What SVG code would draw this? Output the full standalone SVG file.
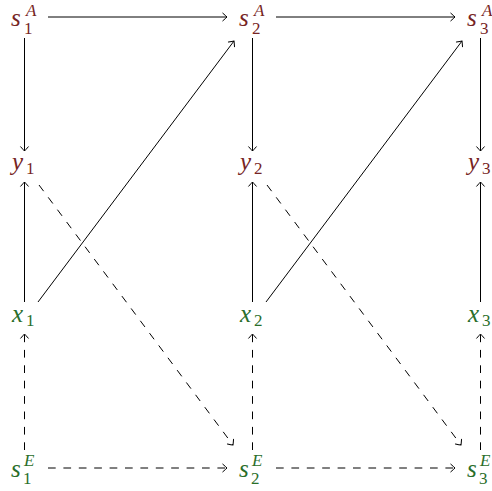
<svg xmlns="http://www.w3.org/2000/svg" width="492" height="491" viewBox="0 0 492 491">
<style>
text{font-family:"Liberation Serif",serif}
.m{font-size:25px;font-style:italic}
.s{font-size:17px;font-style:italic}
.n{font-style:normal}
.r{fill:#762424}
.g{fill:#2a6e2a}
.e{stroke:#000;stroke-width:1;fill:none}
.d{stroke-dasharray:7.7 7.7}
</style>
<defs>
<marker id="ah" markerUnits="userSpaceOnUse" markerWidth="12" markerHeight="12" refX="0" refY="0" viewBox="-6 -6 12 12" orient="auto" overflow="visible">
<path d="M-4.2,-3.8 Q-1.2,-1.2 0,0 Q-1.2,1.2 -4.2,3.8" fill="none" stroke="#000" stroke-width="1" stroke-linecap="round"/>
</marker>
</defs>
<g id="connectors">
<path class="e" marker-end="url(#ah)" d="M48,17 H227"/>
<path class="e" marker-end="url(#ah)" d="M276,17 H455"/>
<path class="e" marker-end="url(#ah)" d="M24.5,38 V151"/>
<path class="e" marker-end="url(#ah)" d="M252.5,38 V151"/>
<path class="e" marker-end="url(#ah)" d="M480.5,38 V151"/>
<path class="e" marker-end="url(#ah)" d="M24.5,302 V182"/>
<path class="e" marker-end="url(#ah)" d="M252.5,302 V182"/>
<path class="e" marker-end="url(#ah)" d="M480.5,302 V182"/>
<path class="e" marker-end="url(#ah)" d="M38,302 L234,41"/>
<path class="e" marker-end="url(#ah)" d="M266,302 L462,41"/>
<path class="e d" marker-end="url(#ah)" d="M39,185 L233,445"/>
<path class="e d" marker-end="url(#ah)" d="M267,185 L461,445"/>
<path class="e d" marker-end="url(#ah)" d="M24.5,450 V334"/>
<path class="e d" marker-end="url(#ah)" d="M252.5,450 V334"/>
<path class="e d" marker-end="url(#ah)" d="M480.5,450 V334"/>
<path class="e d" marker-end="url(#ah)" d="M48,468 H227"/>
<path class="e d" marker-end="url(#ah)" d="M276,468 H455"/>
</g>
<g id="s1A" class="r"><text class="m" x="11" y="26">s</text><text class="s" x="26" y="16">A</text><text class="s n" x="24" y="34">1</text></g>
<g id="s2A" class="r"><text class="m" x="239" y="26">s</text><text class="s" x="254" y="16">A</text><text class="s n" x="252" y="34">2</text></g>
<g id="s3A" class="r"><text class="m" x="467" y="26">s</text><text class="s" x="482" y="16">A</text><text class="s n" x="480" y="34">3</text></g>
<g id="y1" class="r"><text class="m" x="12" y="170">y</text><text class="s n" x="26" y="174">1</text></g>
<g id="y2" class="r"><text class="m" x="240" y="170">y</text><text class="s n" x="254" y="174">2</text></g>
<g id="y3" class="r"><text class="m" x="468" y="170">y</text><text class="s n" x="482" y="174">3</text></g>
<g id="x1" class="g"><text class="m" x="12" y="322">x</text><text class="s n" x="26" y="326">1</text></g>
<g id="x2" class="g"><text class="m" x="240" y="322">x</text><text class="s n" x="254" y="326">2</text></g>
<g id="x3" class="g"><text class="m" x="468" y="322">x</text><text class="s n" x="482" y="326">3</text></g>
<g id="s1E" class="g"><text class="m" x="11" y="477">s</text><text class="s" x="24" y="466">E</text><text class="s n" x="23" y="484">1</text></g>
<g id="s2E" class="g"><text class="m" x="239" y="477">s</text><text class="s" x="252" y="466">E</text><text class="s n" x="251" y="484">2</text></g>
<g id="s3E" class="g"><text class="m" x="467" y="477">s</text><text class="s" x="480" y="466">E</text><text class="s n" x="479" y="484">3</text></g>
</svg>
